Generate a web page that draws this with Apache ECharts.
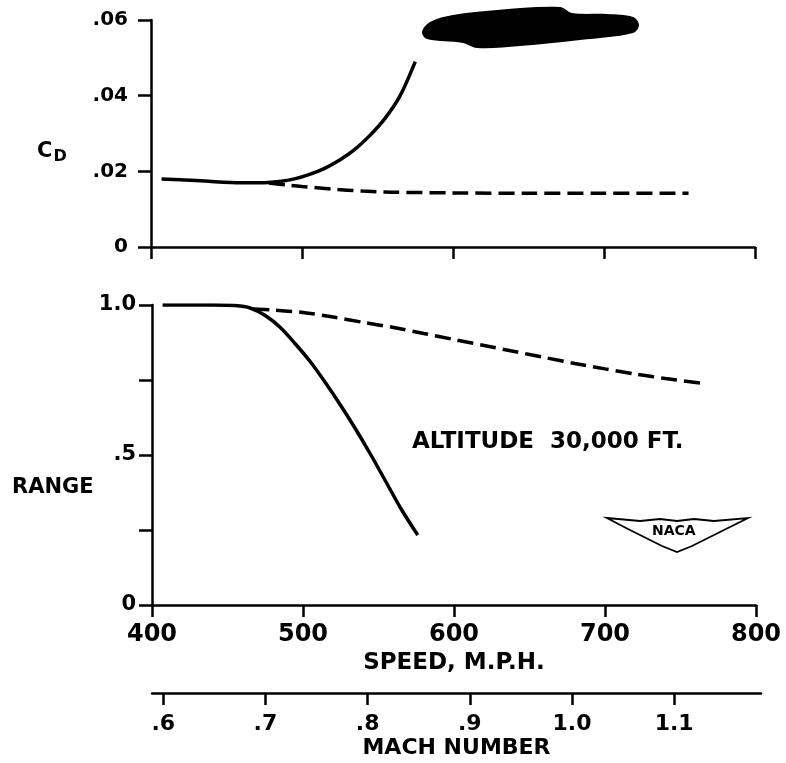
<!DOCTYPE html>
<html><head><meta charset="utf-8">
<script src="https://cdn.jsdelivr.net/npm/echarts@6/dist/echarts.min.js"></script>
<style>html,body{margin:0;padding:0;background:#fff}#c{width:786px;height:763px}</style>
</head><body><div id="c"></div>
<script>
// ---- tick labels ----
const speedMin = 400, speedMax = 800, speedStep = 100;
const machTicks = [0.6, 0.7, 0.8, 0.9, 1.0, 1.1];
const machTickLabels = ['.6', '.7', '.8', '.9', '1.0', '1.1'];
const machAxisMin = 0.589, machAxisMax = 1.185;
const cdTickLabels = ['0', '.02', '.04', '.06'];
const rangeTickLabels = ['0', '', '.5', '', '1.0'];

// ---- C_D panel ----
const cdSolidSpeed = [407, 420, 440, 460, 475, 485, 495, 505, 515, 525, 535, 545, 555, 565, 575];
const cdSolid      = [0.0180, 0.0178, 0.0173, 0.0170, 0.0170, 0.0173, 0.0180, 0.0192, 0.0208, 0.0230, 0.0258, 0.0295, 0.0340, 0.0400, 0.0490];
const cdDashSpeed  = [478, 490, 500, 520, 540, 560, 600, 650, 700, 756];
const cdDash       = [0.0169, 0.0164, 0.0160, 0.0153, 0.0148, 0.0145, 0.0143, 0.0142, 0.0142, 0.0142];

// ---- RANGE panel ----
const rangeSolidSpeed = [407, 420, 440, 455, 465, 475, 485, 495, 505, 515, 525, 535, 545, 555, 565, 576];
const rangeSolid      = [1.0, 1.0, 1.0, 0.998, 0.99, 0.965, 0.925, 0.87, 0.81, 0.74, 0.665, 0.585, 0.50, 0.41, 0.32, 0.233];
const rangeDashSpeed  = [467, 480, 500, 520, 540, 560, 580, 600, 620, 640, 660, 680, 700, 720, 740, 763];
const rangeDash       = [0.987, 0.983, 0.975, 0.960, 0.942, 0.925, 0.905, 0.885, 0.865, 0.845, 0.825, 0.805, 0.787, 0.770, 0.755, 0.740];

const zip = (xs, ys) => xs.map((x, i) => [x, ys[i]]);
const FONT = 'DejaVu Sans';
const W = 'bold';
const axLine = { lineStyle: { color: '#000', width: 2.5 } };
const axTick = { show: true, length: 12, inside: false, lineStyle: { color: '#000', width: 2.5 } };

const chart = echarts.init(document.getElementById('c'), null, { renderer: 'canvas' });
chart.setOption({
  backgroundColor: '#fff',
  animation: false,
  grid: [
    { left: 151, right: 31, top: 20, height: 227 },
    { left: 152, right: 30, top: 305, height: 300 },
    { left: 152, right: 25, top: 683, height: 10 }
  ],
  xAxis: [
    { gridIndex: 0, type: 'value', min: speedMin, max: speedMax, interval: speedStep,
      axisLine: axLine, axisTick: axTick, axisLabel: { show: false }, splitLine: { show: false } },
    { gridIndex: 1, type: 'value', min: speedMin, max: speedMax, interval: speedStep,
      axisLine: axLine, axisTick: axTick, splitLine: { show: false },
      axisLabel: { color: '#000', fontFamily: FONT, fontWeight: W, fontSize: 24, margin: 18 },
      name: 'SPEED, M.P.H.', nameLocation: 'middle', nameGap: 47,
      nameTextStyle: { color: '#000', fontFamily: FONT, fontWeight: W, fontSize: 23 } },
    { gridIndex: 2, type: 'value', min: machAxisMin, max: machAxisMax,
      axisLine: axLine, splitLine: { show: false },
      axisTick: Object.assign({}, axTick, { customValues: machTicks }),
      axisLabel: { color: '#000', fontFamily: FONT, fontWeight: W, fontSize: 22, margin: 20, customValues: machTicks,
        formatter: v => { const i = machTicks.findIndex(t => Math.abs(t - v) < 1e-6); return i >= 0 ? machTickLabels[i] : ''; } },
      name: 'MACH NUMBER', nameLocation: 'middle', nameGap: 44,
      nameTextStyle: { color: '#000', fontFamily: FONT, fontWeight: W, fontSize: 22 } }
  ],
  yAxis: [
    { gridIndex: 0, type: 'value', min: 0, max: 0.06, interval: 0.02,
      axisLine: { show: true, lineStyle: { color: '#000', width: 2.5 } }, axisTick: Object.assign({}, axTick, { length: 13 }),
      splitLine: { show: false },
      axisLabel: { color: '#000', fontFamily: FONT, fontWeight: W, fontSize: 20, margin: 23,
        formatter: v => cdTickLabels[Math.round(v / 0.02)] } },
    { gridIndex: 1, type: 'value', min: 0, max: 1, interval: 0.25,
      axisLine: { show: true, lineStyle: { color: '#000', width: 2.5 } }, axisTick: Object.assign({}, axTick, { length: 13 }),
      splitLine: { show: false },
      axisLabel: { color: '#000', fontFamily: FONT, fontWeight: W, fontSize: 21, margin: 16,
        formatter: v => rangeTickLabels[Math.round(v / 0.25)] } },
    { gridIndex: 2, type: 'value', show: false, min: 0, max: 1 }
  ],
  series: [
    { type: 'line', xAxisIndex: 0, yAxisIndex: 0, data: zip(cdSolidSpeed, cdSolid), smooth: 0.3,
      showSymbol: false, lineStyle: { color: '#000', width: 3.5 } },
    { type: 'line', xAxisIndex: 0, yAxisIndex: 0, data: zip(cdDashSpeed, cdDash), smooth: 0.3,
      showSymbol: false, lineStyle: { color: '#000', width: 3.5, type: [16, 7] } },
    { type: 'line', xAxisIndex: 1, yAxisIndex: 1, data: zip(rangeSolidSpeed, rangeSolid), smooth: 0.3,
      showSymbol: false, lineStyle: { color: '#000', width: 3.5 } },
    { type: 'line', xAxisIndex: 1, yAxisIndex: 1, data: zip(rangeDashSpeed, rangeDash), smooth: 0.3,
      showSymbol: false, lineStyle: { color: '#000', width: 3.5, type: [16, 7] } }
  ],
  graphic: [
    { type: 'text', left: 37, top: 141,
      style: { text: '{c|C}{d|D}', rich: {
        c: { fontFamily: FONT, fontWeight: W, fontSize: 21, fill: '#000' },
        d: { fontFamily: FONT, fontWeight: W, fontSize: 16, fill: '#000', padding: [10, 0, 0, 1] } } } },
    { type: 'text', left: 12, top: 477,
      style: { text: 'RANGE', fontFamily: FONT, fontWeight: W, fontSize: 21, fill: '#000' } },
    { type: 'text', left: 412, top: 431,
      style: { text: 'ALTITUDE  30,000 FT.', fontFamily: FONT, fontWeight: W, fontSize: 23, fill: '#000' } },
    // redaction blob at top
    { type: 'polygon', shape: { smooth: 0.35, points: [
        [422, 32], [430, 22], [453, 15], [497, 10], [560, 7], [572, 13], [607, 14], [633, 17],
        [639, 25], [633, 33], [580, 40], [520, 46], [477, 48], [463, 43], [427, 39]] },
      style: { fill: '#000' } },
    // NACA wings logo
    { type: 'polygon', shape: { points: [
        [607, 518], [640, 521], [660, 519], [677, 521], [694, 519], [714, 521], [748, 518],
        [728, 528], [708, 538], [692, 546], [677, 552], [662, 546], [646, 538], [626, 528]] },
      style: { fill: 'none', stroke: '#000', lineWidth: 1.8 } },
    { type: 'text', left: 652, top: 524,
      style: { text: 'NACA', fontFamily: FONT, fontWeight: W, fontSize: 14, fill: '#000' } }
  ]
});
</script></body></html>
